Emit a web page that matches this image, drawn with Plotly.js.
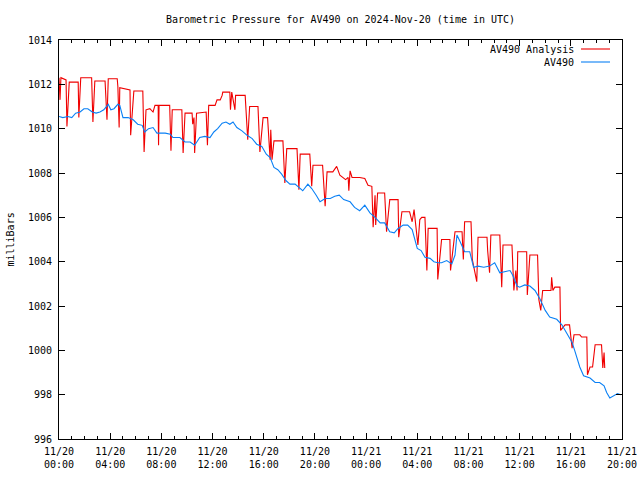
<!DOCTYPE html>
<html><head><meta charset="utf-8">
<script src="https://cdn.plot.ly/plotly-3.0.1.min.js"></script>
<style>body{margin:0;background:#fff}#c{width:640px;height:480px}</style>
</head><body><div id="c"></div>
<script>
// hours since 2024-11-20 00:00 UTC
const blueHours = [0,0.3,0.7,1.0,1.3,1.65,1.95,2.25,2.6,2.9,3.2,3.5,3.85,4.05,4.3,4.6,4.75,5.0,5.4,5.8,6.15,6.5,6.7,7.0,7.35,7.65,8.3,8.7,8.9,9.45,9.85,10.25,10.6,11.0,11.4,11.8,12.1,12.4,12.75,13.05,13.35,13.6,13.9,14.3,14.7,15.1,15.45,15.85,16.2,16.5,16.8,17.1,17.4,17.75,18.05,18.45,18.75,19.05,19.45,19.75,20.1,20.4,20.8,21.2,21.55,21.9,22.25,22.75,23.1,23.5,23.9,24.3,24.7,25.1,25.45,25.85,26.2,26.5,26.9,27.25,27.6,28.0,28.3,28.6,29.0,29.3,29.6,29.9,30.3,30.7,30.95,31.1,31.35,31.7,32.1,32.4,32.75,33.2,33.65,34.05,34.45,34.85,35.25,35.45,35.8,36.0,36.4,36.8,37.2,37.6,38.0,38.35,38.9,39.3,39.75,40.1,40.3,40.7,41.0,41.5,41.9,42.25,42.6,42.8,43.05,43.35,43.65,43.9];
const blueValues = [1010.55,1010.5,1010.55,1010.5,1010.7,1010.75,1010.9,1010.9,1010.75,1010.7,1010.75,1010.85,1011.1,1010.85,1010.9,1011.1,1011.05,1010.5,1010.5,1010.4,1010.2,1010.15,1009.85,1010.0,1010.05,1009.8,1009.8,1009.75,1009.6,1009.6,1009.4,1009.4,1009.25,1009.6,1009.65,1009.6,1009.85,1010.0,1010.25,1010.3,1010.2,1010.3,1010.05,1009.9,1009.7,1009.55,1009.3,1009.2,1008.85,1008.7,1008.25,1008.15,1007.95,1007.65,1007.5,1007.5,1007.35,1007.2,1007.5,1007.3,1007.0,1006.7,1006.85,1006.85,1006.95,1007.0,1006.8,1006.7,1006.45,1006.3,1006.55,1006.2,1006.0,1005.75,1005.75,1005.35,1005.3,1005.5,1005.65,1005.65,1005.45,1004.6,1004.5,1004.2,1004.15,1004.0,1003.95,1003.95,1004.05,1003.9,1004.3,1005.2,1004.9,1004.45,1004.45,1003.75,1003.8,1003.75,1003.8,1003.95,1003.5,1003.55,1003.6,1003.4,1002.9,1002.85,1002.95,1002.9,1002.7,1002.3,1001.8,1001.5,1001.4,1001.15,1000.7,1000.35,1000.0,999.25,998.85,998.75,998.55,998.55,998.4,998.1,997.85,997.95,998.05,998.0];

const redHours = [0,0.08,0.15,0.55,0.62,0.8,1.5,1.55,1.7,2.55,2.65,2.8,3.6,3.75,3.85,4.55,4.6,4.7,4.75,5.55,5.6,5.85,6.55,6.65,6.8,7.1,7.35,7.5,7.75,7.78,7.82,8.65,8.75,8.85,9.6,9.7,9.85,10.4,10.45,10.55,10.6,10.75,11.5,11.6,11.7,12.2,12.35,12.6,12.75,12.8,13.35,13.4,13.5,13.75,13.8,14.55,14.75,14.9,15.55,15.7,15.95,16.3,16.5,16.55,16.65,16.8,17.5,17.65,17.8,18.6,18.75,18.85,19.6,19.75,19.85,20.6,20.8,20.95,21.4,21.7,21.95,22.4,22.6,22.65,22.75,22.9,23.5,23.9,24.15,24.45,24.55,24.7,24.75,24.9,25.45,25.6,25.85,26.5,26.55,26.8,27.4,27.6,27.75,27.9,28.05,28.2,28.35,28.6,28.75,28.85,29.55,29.6,29.9,30.55,30.6,30.95,31.5,31.6,31.7,32.2,32.3,32.65,32.75,33.45,33.5,33.65,33.75,34.45,34.6,34.7,35.4,35.55,35.7,35.8,35.85,36.55,36.6,36.8,37.4,37.5,37.65,37.8,38.45,38.5,38.6,38.75,39.15,39.2,39.55,39.9,40.1,40.25,40.7,40.85,41.25,41.3,41.5,41.7,41.9,42.4,42.5,42.6,42.65];
const redValues = [1012.3,1011.3,1012.3,1012.2,1010.1,1012.1,1012.1,1010.5,1012.3,1012.3,1010.3,1012.15,1012.15,1010.4,1012.25,1012.25,1011.9,1010.05,1011.85,1011.75,1009.7,1011.7,1011.7,1008.95,1010.85,1010.9,1010.75,1011.05,1011.05,1009.25,1011.05,1011.05,1009.0,1010.85,1010.85,1008.9,1010.7,1010.7,1010.2,1010.5,1008.9,1010.7,1010.75,1009.25,1011.05,1011.05,1011.3,1011.3,1011.5,1011.65,1011.65,1010.85,1011.65,1010.85,1011.5,1011.5,1009.5,1011.0,1011.0,1008.95,1010.5,1010.5,1008.6,1009.95,1008.6,1009.45,1009.45,1007.55,1009.1,1009.1,1007.25,1008.85,1008.85,1007.4,1008.35,1008.35,1006.5,1008.05,1008.05,1008.3,1007.9,1007.7,1007.8,1007.2,1008.1,1007.8,1007.8,1007.75,1007.45,1007.4,1005.55,1007.0,1005.65,1007.1,1007.1,1005.35,1006.8,1006.8,1005.1,1006.25,1006.25,1005.8,1006.35,1005.45,1004.75,1005.9,1006.0,1006.0,1003.6,1005.5,1005.5,1003.2,1005.0,1005.0,1003.6,1005.35,1005.35,1004.1,1005.8,1005.8,1004.1,1003.1,1005.1,1005.1,1004.5,1003.5,1005.2,1005.2,1002.85,1004.75,1004.75,1002.7,1003.6,1002.7,1004.45,1004.45,1002.5,1004.3,1004.3,1002.3,1001.8,1002.7,1002.7,1003.3,1002.7,1002.85,1002.85,1000.9,1001.15,1001.15,1000.1,1000.7,1000.7,1000.6,1000.6,998.9,999.25,999.25,1000.25,1000.25,999.2,999.9,999.2];

const tickHours = [0,4,8,12,16,20,24,28,32,36,40,44];
const tickLabels = ["11/20<br>00:00","11/20<br>04:00","11/20<br>08:00","11/20<br>12:00","11/20<br>16:00","11/20<br>20:00","11/21<br>00:00","11/21<br>04:00","11/21<br>08:00","11/21<br>12:00","11/21<br>16:00","11/21<br>20:00"];
const seriesNames = ["AV490 Analysis","AV490"];

const T0 = Date.UTC(2024,10,20);
const toMs = h => T0 + h*3600000;

const FONT = "DejaVu Sans Mono, monospace";
const RED = '#f00000', BLUE = '#0a80f5';
const traces = [
  {x: redHours.map(toMs), y: redValues, type:'scatter', mode:'lines', name: seriesNames[0],
   line:{color:RED, width:1.1}, showlegend:false},
  {x: blueHours.map(toMs), y: blueValues, type:'scatter', mode:'lines', name: seriesNames[1],
   line:{color:BLUE, width:1.1}, showlegend:false}
];

const axisCommon = {showline:true, linecolor:'#000', linewidth:1, mirror:'ticks', ticks:'inside',
  tickcolor:'#000', showgrid:false, zeroline:false, tickfont:{family:FONT, size:10, color:'#000'}};

const layout = {
  width:640, height:480, paper_bgcolor:'#fff', plot_bgcolor:'#fff',
  margin:{l:59, r:18, t:40, b:41},
  font:{family:FONT, size:10, color:'#000'},
  title:{text:'Barometric Pressure for AV490 on 2024-Nov-20 (time in UTC)', font:{family:FONT,size:10,color:'#000'},
    x:0.5, xref:'paper', xanchor:'center', y:1-19/480, yref:'container', yanchor:'middle'},
  xaxis: Object.assign({}, axisCommon, {type:'date', range:[toMs(0), toMs(44)],
    tickmode:'array', tickvals: tickHours.map(toMs), ticktext: tickLabels, ticklen:6, ticklabelstandoff:3,
    minor:{dtick:3600000, ticks:'inside', ticklen:3, tickcolor:'#000', showgrid:false}}),
  yaxis: Object.assign({}, axisCommon, {range:[996,1014], dtick:2, tick0:996, ticklen:6, ticklabelstandoff:4}),
  annotations:[
    {text:'milliBars', textangle:-90, xref:'paper', yref:'paper', x:(10-59)/563, y:0.5, xanchor:'center', yanchor:'middle', showarrow:false, font:{family:FONT,size:10,color:'#000'}},
    {text:seriesNames[0], xref:'paper', yref:'paper', x:(576-59)/563, y:(439-49)/399, xanchor:'right', yanchor:'middle', showarrow:false, font:{family:FONT,size:10,color:'#000'}},
    {text:seriesNames[1], xref:'paper', yref:'paper', x:(576-59)/563, y:(439-62)/399, xanchor:'right', yanchor:'middle', showarrow:false, font:{family:FONT,size:10,color:'#000'}}
  ],
  shapes:[
    {type:'line', xref:'paper', yref:'paper', x0:(581-59)/563, x1:(610-59)/563, y0:(439-49)/399, y1:(439-49)/399, line:{color:RED, width:1.1}},
    {type:'line', xref:'paper', yref:'paper', x0:(581-59)/563, x1:(610-59)/563, y0:(439-62)/399, y1:(439-62)/399, line:{color:BLUE, width:1.1}}
  ]
};
Plotly.newPlot('c', traces, layout, {displayModeBar:false, staticPlot:true});
</script></body></html>
